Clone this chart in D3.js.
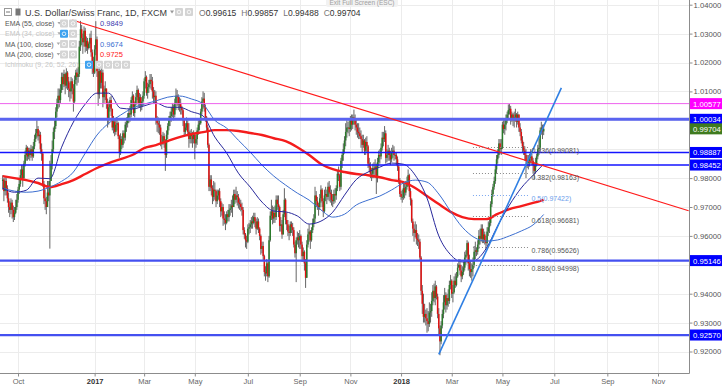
<!DOCTYPE html>
<html><head><meta charset="utf-8">
<script src="https://cdn.jsdelivr.net/npm/d3@7"></script>
<style>
html,body{margin:0;padding:0;background:#fff;}
svg{display:block;font-family:"Liberation Sans",Arial,sans-serif;}
</style></head><body>
<svg id="c" width="722" height="391"></svg>
<script>
// ---------------- DATA ----------------
const startDate = "2016-09-14";          // first daily bar (weekdays only)
const firstOpen = 0.9790;
const closes = [
.9795,.9755,.9790,
.9765,.9730,.9700,.9690,.9715, .9690,.9665,.9680,.9700,.9725, .9760,.9780,.9810,.9830,.9800,
.9850,.9880,.9905,.9875,.9895, .9880,.9900,.9875,.9910,.9935, .9955,.9970,.9945,.9950,.9900,
.9885,.9780,.9730,.9720,.9700, .9750,.9740,.9790,.9850,.9900, .9960,.9980,1.0030,1.0060,1.0085,
1.0070,1.0105,1.0150,1.0125,1.0160, 1.0120,1.0165,1.0135,1.0110,1.0100, 1.0135,1.0110,1.0065,1.0140,1.0165,
1.0150,1.0160,1.0255,1.0315,1.0285, 1.0270,1.0310,1.0255,1.0275,1.0250, 1.0265,1.0285,1.0235,1.0205,1.0165,
1.0245,1.0280,1.0170,1.0090,1.0170, 1.0130,1.0165,1.0080,1.0100,1.0110, 1.0060,1.0005,1.0045,1.0070,1.0040,
.9975,.9995,.9960,.9985,.9990, .9945,.9890,.9935,.9915,.9955, .9940,.9985,.9990,1.0010,1.0025,
1.0020,1.0070,1.0085,1.0025,1.0055, 1.0080,1.0105,1.0060,1.0080,1.0050, 1.0065,1.0085,1.0135,1.0150,1.0095,
1.0115,1.0125,1.0140,1.0135,1.0100, 1.0080,1.0085,1.0000,.9990,.9985, .9975,.9920,.9925,.9945,.9930,
.9880,.9950,.9980,1.0000,1.0015, 1.0030,1.0045,1.0020,1.0060,1.0085, 1.0080,1.0055,1.0060,1.0045,1.0035,
1.0000,.9960,.9975,.9990,.9960, .9935,.9955,.9945,.9935,.9950, .9920,.9935,.9965,.9985,.9990,
1.0030,1.0065,1.0075,1.0045,1.0010, .9975,.9915,.9770,.9795,.9765, .9735,.9760,.9755,.9720,.9740,
.9755,.9720,.9685,.9700,.9660, .9655,.9645,.9675,.9665,.9690, .9695,.9705,.9700,.9745,.9725,
.9740,.9735,.9715,.9710,.9700, .9690,.9620,.9605,.9585,.9580, .9625,.9630,.9640,.9650,.9645,
.9665,.9650,.9625,.9650,.9625, .9600,.9555,.9565,.9530,.9475, .9470,.9505,.9460,.9585,.9670,
.9685,.9660,.9680,.9665,.9725, .9710,.9700,.9635,.9640,.9605, .9675,.9725,.9655,.9640,.9615,
.9610,.9640,.9630,.9620,.9570, .9540,.9585,.9595,.9585,.9600, .9570,.9530,.9545,.9505,.9455,
.9570,.9605,.9615,.9585,.9620, .9645,.9660,.9740,.9720,.9705, .9700,.9730,.9760,.9720,.9685,
.9740,.9745,.9735,.9770,.9750, .9745,.9725,.9720,.9745,.9740, .9765,.9815,.9810,.9770,.9860,
.9880,.9900,.9930,.9960,.9975, .9975,.9970,1.0005,.9985,1.0010, 1.0000,.9985,.9975,.9960,.9955,
.9945,.9935,.9915,.9930,.9895, .9925,.9910,.9850,.9840,.9815, .9815,.9835,.9830,.9840,.9800,
.9855,.9880,.9875,.9905,.9940, .9935,.9955,.9870,.9880,.9895, .9880,.9865,.9890,.9895,.9880,
.9880,.9865,.9840,.9790,.9745, .9735,.9735,.9765,.9750,.9770, .9785,.9810,.9755,.9725,.9650,
.9625,.9610,.9620,.9590,.9585, .9580,.9525,.9410,.9365,.9320, .9330,.9315,.9305,.9295,.9335,
.9340,.9375,.9410,.9385,.9425, .9390,.9330,.9280,.9235,.9290, .9330,.9370,.9395,.9360,.9385,
.9375,.9430,.9445,.9400,.9405, .9445,.9430,.9460,.9490,.9500, .9480,.9460,.9475,.9490,.9525,
.9535,.9575,.9505,.9485,.9475, .9485,.9500,.9545,.9550,.9545, .9570,.9600,.9590,.9625,.9590,
.9605,.9585,.9575,.9615,.9630, .9645,.9710,.9745,.9770,.9790, .9830,.9865,.9880,.9920,.9900,
.9905,.9985,.9970,.9985,1.0000, 1.0020,1.0035,1.0040,1.0005,1.0020, 1.0000,1.0010,1.0020,.9995,1.0020,
.9975,.9960,.9930,.9910,.9895, .9880,.9860,.9855,.9855,.9870, .9875,.9860,.9845,.9825,.9845,
.9875,.9900,.9905,.9965,.9975, .99615,.99704
];
const highs = [
.9810,.9800,.9805,
.9800,.9775,.9750,.9720,.9730, .9725,.9705,.9700,.9725,.9745, .9770,.9800,.9830,.9845,.9845,
.9860,.9895,.9915,.9910,.9905, .9905,.9915,.9910,.9925,.9950, .9970,1.0000,.9980,.9965,.9960,
.9920,.9890,.9790,.9760,.9735, .9790,.9790,.9860,.9880,.9930, .9975,1.0000,1.0045,1.0075,1.0110,
1.0110,1.0125,1.0165,1.0165,1.0175, 1.0165,1.0180,1.0170,1.0150,1.0130, 1.0150,1.0145,1.0125,1.0155,1.0175,
1.0180,1.0185,1.0275,1.0344,1.0330, 1.0300,1.0325,1.0320,1.0290,1.0285, 1.0270,1.0300,1.0310,1.0245,1.0220,
1.0260,1.0343,1.0290,1.0180,1.0185, 1.0175,1.0185,1.0175,1.0120,1.0135, 1.0110,1.0075,1.0065,1.0080,1.0085,
1.0040,1.0015,1.0005,1.0005,1.0010, .9995,.9950,.9955,.9945,.9965, .9965,.9995,1.0010,1.0025,1.0040,
1.0050,1.0080,1.0100,1.0090,1.0065, 1.0095,1.0120,1.0110,1.0095,1.0090, 1.0080,1.0100,1.0145,1.0170,1.0155,
1.0130,1.0140,1.0160,1.0160,1.0150, 1.0115,1.0105,1.0100,1.0015,1.0010, 1.0000,.9985,.9950,.9960,.9955,
.9935,.9965,.9990,1.0015,1.0030, 1.0045,1.0060,1.0055,1.0075,1.0110, 1.0105,1.0090,1.0080,1.0075,1.0050,
1.0040,1.0005,.9990,1.0010,1.0000, .9990,.9965,.9970,.9960,.9965, .9955,.9950,.9975,1.0000,1.0005,
1.0040,1.0080,1.0100,1.0095,1.0055, 1.0015,.9985,.9920,.9810,.9810, .9775,.9790,.9785,.9760,.9760,
.9760,.9765,.9730,.9715,.9710, .9685,.9675,.9685,.9690,.9710, .9710,.9725,.9740,.9760,.9760,
.9770,.9755,.9745,.9730,.9725, .9715,.9700,.9630,.9610,.9600, .9640,.9645,.9655,.9665,.9670,
.9680,.9680,.9660,.9665,.9660, .9630,.9605,.9580,.9580,.9535, .9495,.9520,.9510,.9600,.9685,
.9725,.9705,.9700,.9705,.9740, .9740,.9740,.9705,.9665,.9655, .9690,.9765,.9730,.9680,.9655,
.9635,.9650,.9650,.9645,.9630, .9580,.9595,.9615,.9610,.9620, .9605,.9580,.9560,.9550,.9520,
.9585,.9625,.9640,.9620,.9630, .9660,.9675,.9770,.9755,.9735, .9715,.9745,.9775,.9765,.9730,
.9760,.9770,.9760,.9785,.9790, .9775,.9760,.9745,.9760,.9765, .9775,.9825,.9840,.9815,.9870,
.9890,.9920,.9945,.9990,1.0000, .9995,1.0000,1.0015,1.0020,1.0020, 1.0037,1.0020,1.0005,.9990,.9990,
.9975,.9965,.9950,.9950,.9935, .9940,.9945,.9915,.9870,.9855, .9835,.9850,.9855,.9865,.9850,
.9870,.9895,.9900,.9920,.9960, .9960,.9980,.9965,.9900,.9915, .9905,.9895,.9905,.9915,.9910,
.9890,.9890,.9875,.9845,.9800, .9755,.9760,.9790,.9780,.9790, .9805,.9830,.9815,.9765,.9730,
.9660,.9640,.9650,.9640,.9610, .9605,.9590,.9530,.9430,.9400, .9365,.9345,.9350,.9340,.9370,
.9365,.9405,.9430,.9435,.9445, .9430,.9400,.9350,.9290,.9305, .9345,.9395,.9420,.9405,.9400,
.9415,.9445,.9465,.9450,.9430, .9460,.9470,.9475,.9505,.9520, .9520,.9500,.9495,.9510,.9545,
.9550,.9585,.9580,.9535,.9510, .9505,.9525,.9565,.9580,.9560, .9585,.9620,.9625,.9640,.9640,
.9625,.9615,.9600,.9630,.9650, .9660,.9720,.9760,.9780,.9805, .9845,.9880,.9900,.9935,.9935,
.9935,.9995,1.0000,1.0005,1.0020, 1.0030,1.0055,1.0056,1.0050,1.0030, 1.0025,1.0030,1.0040,1.0025,1.0030,
1.0010,.9990,.9970,.9945,.9925, .9910,.9900,.9880,.9880,.9885, .9900,.9885,.9870,.9855,.9870,
.9885,.9915,.9935,.9975,.9995, .9985,.99857
];
const lows = [
.9760,.9720,.9740,
.9740,.9715,.9680,.9665,.9675, .9660,.9648,.9655,.9675,.9690, .9715,.9745,.9770,.9795,.9770,
.9795,.9840,.9860,.9860,.9865, .9860,.9870,.9860,.9870,.9900, .9925,.9940,.9930,.9920,.9885,
.9860,.9770,.9710,.9690,.9675, .9700,.9720,.9556,.9790,.9830, .9890,.9935,.9970,1.0010,1.0040,
1.0045,1.0060,1.0095,1.0105,1.0115, 1.0090,1.0110,1.0105,1.0080,1.0065, 1.0075,1.0090,1.0030,1.0060,1.0125,
1.0120,1.0130,1.0150,1.0240,1.0260, 1.0230,1.0255,1.0235,1.0240,1.0230, 1.0245,1.0250,1.0220,1.0160,1.0150,
1.0160,1.0225,1.0150,1.0050,1.0075, 1.0110,1.0110,1.0045,1.0060,1.0070, 1.0040,.9975,.9985,1.0030,1.0015,
.9965,.9955,.9945,.9950,.9965, .9935,.9870,.9880,.9900,.9905, .9920,.9930,.9960,.9975,.9990,
.9995,1.0010,1.0040,1.0015,1.0010, 1.0050,1.0070,1.0045,1.0045,1.0030, 1.0035,1.0050,1.0075,1.0110,1.0085,
1.0075,1.0095,1.0110,1.0105,1.0075, 1.0060,1.0060,.9985,.9960,.9955, .9950,.9910,.9900,.9915,.9905,
.9825,.9870,.9935,.9965,.9980, .9995,1.0010,1.0000,1.0010,1.0035, 1.0050,1.0035,1.0030,1.0020,1.0020,
.9980,.9945,.9950,.9965,.9945, .9905,.9920,.9920,.9905,.9920, .9865,.9905,.9915,.9950,.9965,
.9985,1.0020,1.0040,1.0030,.9995, .9960,.9905,.9755,.9755,.9740, .9710,.9720,.9725,.9700,.9710,
.9725,.9700,.9665,.9670,.9635, .9640,.9620,.9640,.9650,.9650, .9670,.9680,.9665,.9700,.9710,
.9715,.9705,.9695,.9690,.9685, .9670,.9605,.9590,.9560,.9555, .9575,.9605,.9610,.9625,.9625,
.9640,.9630,.9605,.9620,.9610, .9585,.9535,.9540,.9515,.9460, .9445,.9460,.9440,.9455,.9580,
.9655,.9640,.9645,.9645,.9655, .9690,.9665,.9615,.9615,.9590, .9610,.9665,.9640,.9620,.9600,
.9585,.9600,.9610,.9600,.9560, .9525,.9440,.9570,.9560,.9555, .9555,.9510,.9510,.9480,.9420,
.9470,.9560,.9580,.9555,.9580, .9610,.9630,.9645,.9700,.9690, .9670,.9690,.9715,.9700,.9665,
.9680,.9720,.9710,.9725,.9720, .9715,.9705,.9700,.9710,.9715, .9725,.9755,.9790,.9755,.9760,
.9835,.9860,.9885,.9910,.9940, .9955,.9945,.9960,.9965,.9970, .9985,.9965,.9950,.9940,.9935,
.9935,.9905,.9890,.9905,.9880, .9880,.9890,.9835,.9820,.9800, .9790,.9800,.9800,.9810,.9745,
.9785,.9840,.9850,.9865,.9895, .9910,.9925,.9850,.9855,.9860, .9860,.9845,.9855,.9870,.9860,
.9865,.9845,.9825,.9780,.9735, .9725,.9715,.9725,.9730,.9740, .9760,.9770,.9735,.9705,.9645,
.9600,.9580,.9595,.9570,.9565, .9555,.9515,.9395,.9330,.9300, .9300,.9290,.9265,.9270,.9285,
.9300,.9320,.9360,.9370,.9360, .9380,.9315,.9255,.9187,.9225, .9280,.9315,.9345,.9335,.9345,
.9355,.9365,.9415,.9385,.9370, .9400,.9420,.9425,.9455,.9490, .9465,.9440,.9450,.9465,.9480,
.9500,.9530,.9480,.9460,.9455, .9445,.9460,.9490,.9520,.9530, .9535,.9555,.9570,.9580,.9575,
.9575,.9570,.9555,.9565,.9600, .9610,.9635,.9700,.9735,.9760, .9780,.9815,.9850,.9870,.9885,
.9880,.9900,.9955,.9950,.9965, .9990,1.0005,1.0020,.9985,.9995, .9980,.9975,.9995,.9975,.9985,
.9960,.9945,.9920,.9890,.9880, .9860,.9800,.9835,.9830,.9840, .9850,.9845,.9815,.9795,.9815,
.9840,.9865,.9880,.9890,.9950, .9935,.99488
];

// moving averages, one sample every maStep bars (+ last bar)
const maStep = 10;
const ema55 = [.9765,.9751,.9758,.9800,.9798,.9907,.9994,1.0056,1.0094,1.0094,1.0042,1.0039,1.0050,1.0060,1.0045,1.0045,1.0030,1.0015,.9942,.9887,.9817,.9769,.9717,.9686,.9683,.9669,.9641,.9651,.9682,.9741,.9795,.9821,.9838,.9852,.9848,.9810,.9731,.9600,.9535,.9510,.9514,.9555,.9635,.9707,.9766,.9810,.9849];
const ma100 = [.9765,.9755,.9751,.9755,.9769,.9789,.9821,.9886,.9949,.9990,1.0018,1.0042,1.0056,1.0067,1.0080,1.0084,1.0074,1.0056,1.0000,.9973,.9931,.9890,.9845,.9807,.9776,.9748,.9724,.9690,.9665,.9675,.9707,.9724,.9738,.9759,.9783,.9793,.9786,.9745,.9685,.9630,.9595,.9582,.9586,.9600,.9617,.9638,.9674];
const ma200 = [.9807,.9800,.9793,.9783,.9769,.9779,.9793,.9814,.9835,.9852,.9866,.9880,.9904,.9914,.9928,.9942,.9952,.9959,.9966,.9966,.9963,.9956,.9949,.9938,.9928,.9907,.9880,.9849,.9831,.9821,.9814,.9810,.9803,.9793,.9786,.9766,.9738,.9710,.9683,.9665,.9658,.9658,.9676,.9693,.9703,.9714,.9725];

const levels = [1.00577, 1.00034, 0.98887, 0.98452, 0.95146, 0.92570];
const lastPrice = 0.99704;
const fibRatios = ["0.236","0.382","0.5","0.618","0.786","0.886"];
const fibValues = [0.99081, 0.98163, 0.97422, 0.96681, 0.95626, 0.94998];
const fibSpan = ["2018-03-27", "2018-06-01"];
const downTrend = [["2016-12-06", 1.0347], ["2018-12-07", 0.9687]];
const upTrend = [["2018-02-14", 0.9190], ["2018-07-10", 1.0112]];
const priceTicks = [0.92,0.93,0.94,0.95,0.96,0.97,0.98,0.99,1.00,1.01,1.02,1.03,1.04];
const monthTicks = ["2016-10","2017-01","2017-03","2017-05","2017-07","2017-09","2017-11","2018-01","2018-03","2018-05","2018-07","2018-09","2018-11"];
const monthLabels = ["Oct","2017","Mar","May","Jul","Sep","Nov","2018","Mar","May","Jul","Sep","Nov"];
const ohlcNames = ["O","H","L","C"];
const ohlcValues = [0.99615, 0.99857, 0.99488, 0.99704];
const legendNames = ["EMA (55, close)","EMA (34, close)","MA (100, close)","MA (200, close)","Ichimoku (9, 26, 52, 26)"];
const legendValues = [0.9849, null, 0.9674, 0.9725, null];

// ---------------- STYLE ----------------
const levelStyle = [
  {stroke:"#ee62ee", w:1,   box:"#ff00ff"},
  {stroke:"#5a63f0", w:3,   box:"#0000ff"},
  {stroke:"#1414ff", w:1.5, box:"#0000ff"},
  {stroke:"#1414ff", w:1.5, box:"#0000ff"},
  {stroke:"#4450f0", w:2.2, box:"#0000ff"},
  {stroke:"#4450f0", w:2.2, box:"#0000ff"}
];
const legendColors = ["#555","#c4c4c4","#555","#555","#c8c8c8"];
const legendValueColors = ["#4040b0",null,"#3d6fd0","#ff2020",null];
const FONT = "Liberation Sans, Arial, sans-serif";

// ---------------- CHART ----------------
const plotR = 689, plotB = 373;
const svg = d3.select("#c");

const parse = d3.utcParse("%Y-%m-%d"), fmt = d3.utcFormat("%Y-%m-%d");
const calendar = [];
for (let d = parse(startDate); d <= parse("2018-12-31"); d = d3.utcDay.offset(d, 1)) {
  const wd = d.getUTCDay();
  if (wd !== 0 && wd !== 6) calendar.push(fmt(d));
}
const barOf = s => calendar.indexOf(s);
const monthBars = monthTicks.map(m => calendar.findIndex(s => s.startsWith(m)));

const x = d3.scaleLinear().domain([-2.291, 582.3]).range([0, plotR]);
const y = d3.scaleLinear().domain([0.92, 1.04]).range([351.5, 4.7]);

svg.append("rect").attr("width",722).attr("height",391).attr("fill","#fff");

// grid
const grid = svg.append("g");
grid.selectAll(".gv").data(monthBars).join("line")
  .attr("x1", d=>Math.round(x(d))+0.5).attr("x2", d=>Math.round(x(d))+0.5)
  .attr("y1",0).attr("y2",plotB).attr("stroke","#ececec");
grid.selectAll(".gh").data(priceTicks).join("line")
  .attr("x1",0).attr("x2",plotR)
  .attr("y1", d=>Math.round(y(d))+0.5).attr("y2", d=>Math.round(y(d))+0.5).attr("stroke","#ececec");

svg.append("clipPath").attr("id","clip").append("rect").attr("width",plotR).attr("height",plotB);
const plot = svg.append("g").attr("clip-path","url(#clip)");

// candles
const candles = closes.map((c,i)=>({i, o: i ? closes[i-1] : firstOpen, h: highs[i], l: lows[i], c}));
const gC = plot.append("g");
gC.selectAll("line").data(candles).join("line")
  .attr("x1", d=>x(d.i)).attr("x2", d=>x(d.i))
  .attr("y1", d=>y(Math.max(d.h,d.o,d.c))).attr("y2", d=>y(Math.min(d.l,d.o,d.c)))
  .attr("stroke","#545454").attr("stroke-width",0.9);
gC.selectAll("rect").data(candles).join("rect")
  .attr("x", d=>x(d.i)-0.75).attr("width",1.5)
  .attr("y", d=>y(Math.max(d.o,d.c)))
  .attr("height", d=>Math.max(0.8, Math.abs(y(d.o)-y(d.c))))
  .attr("fill", d=> d.c>=d.o ? "#2b7a2b" : "#e01010");

// moving averages
const maBars = d3.range(0, closes.length, maStep); maBars.push(closes.length-1);
const maLine = d3.line().x((d,i)=>x(maBars[i])).y(d=>y(d)).curve(d3.curveMonotoneX);
plot.append("path").attr("d", maLine(ma200)).attr("fill","none").attr("stroke","#f41c1c").attr("stroke-width",2.4);
plot.append("path").attr("d", maLine(ma100)).attr("fill","none").attr("stroke","#3d6fd0").attr("stroke-width",1);
plot.append("path").attr("d", maLine(ema55)).attr("fill","none").attr("stroke","#28289c").attr("stroke-width",1);

// horizontal levels
plot.selectAll(".lvl").data(levels).join("line")
  .attr("x1",0).attr("x2",plotR).attr("y1",d=>y(d)).attr("y2",d=>y(d))
  .attr("stroke",(d,i)=>levelStyle[i].stroke).attr("stroke-width",(d,i)=>levelStyle[i].w);

// trend lines
const tl = d3.line().x(d=>x(barOf(d[0]))).y(d=>y(d[1]));
plot.append("path").attr("d", tl(downTrend)).attr("stroke","#ff1a1a").attr("stroke-width",1.2).attr("fill","none");
plot.append("path").attr("d", tl(upTrend)).attr("stroke","#2f7fe3").attr("stroke-width",1.6).attr("fill","none");

// fibonacci
const fx1 = x(barOf(fibSpan[0])), fx2 = x(barOf(fibSpan[1]));
const fibG = svg.append("g");
fibG.selectAll("line").data(fibValues).join("line")
  .attr("x1",fx1).attr("x2",fx2).attr("y1",d=>Math.round(y(d))+0.5).attr("y2",d=>Math.round(y(d))+0.5)
  .attr("stroke",(d,i)=>fibRatios[i]==="0.5"?"#7aa6f0":"#8a8a8a").attr("stroke-dasharray","1,2");
fibG.selectAll("text").data(fibValues).join("text")
  .attr("x",fx2+2).attr("y",d=>y(d)+6.3)
  .attr("font-family",FONT).attr("font-size",7)
  .attr("fill",(d,i)=>fibRatios[i]==="0.5"?"#6d9eeb":"#555")
  .text((d,i)=>`${fibRatios[i]}(${d3.format(".5f")(d)})`);

// axes frame
svg.append("line").attr("x1",plotR+0.5).attr("x2",plotR+0.5).attr("y1",0).attr("y2",plotB+0.5).attr("stroke","#8c8c8c");
svg.append("line").attr("x1",0).attr("x2",plotR+0.5).attr("y1",plotB+0.5).attr("y2",plotB+0.5).attr("stroke","#8c8c8c");

// price boxes on the right axis (current price + horizontal levels)
const boxes = levels.map((v,i)=>({v, fill:levelStyle[i].box}));
boxes.splice(2,0,{v:lastPrice, fill:"#3f7b1f"});

// axis tick labels hidden where a price box covers them (as the platform does)
const visibleTicks = priceTicks.filter(t => boxes.every(b => Math.abs(y(t) - y(b.v)) > 9));
const gy = svg.append("g").attr("transform",`translate(${plotR+0.5},0)`)
  .call(d3.axisRight(y).tickValues(visibleTicks).tickFormat(d3.format(".5f")).tickSize(3).tickPadding(1).tickSizeOuter(0));
gy.select(".domain").remove();
gy.attr("font-family",FONT).attr("font-size",7.7);
gy.selectAll(".tick line").attr("stroke","#8c8c8c");
gy.selectAll(".tick text").attr("fill","#555");

const gx = svg.append("g").attr("transform",`translate(0,${plotB+0.5})`)
  .call(d3.axisBottom(x).tickValues(monthBars).tickFormat((d,i)=>monthLabels[i]).tickSize(3).tickPadding(2).tickSizeOuter(0));
gx.select(".domain").remove();
gx.attr("font-family",FONT).attr("font-size",7.5);
gx.selectAll(".tick line").attr("stroke","#8c8c8c");
gx.selectAll(".tick text").attr("fill",(d,i)=>monthLabels[i].length===4?"#333":"#666")
  .attr("font-weight",(d,i)=>monthLabels[i].length===4?"bold":"normal");

const gb = svg.append("g");
gb.selectAll("rect").data(boxes).join("rect")
  .attr("x",plotR+1).attr("width",722-plotR-1).attr("y",d=>y(d.v)-5.5).attr("height",11).attr("fill",d=>d.fill);
gb.selectAll("text").data(boxes).join("text")
  .attr("x",plotR+4).attr("y",d=>y(d.v)+3)
  .attr("font-family",FONT).attr("font-size",7.7).attr("fill","#fff")
  .text(d=>d3.format(".5f")(d.v));

// legend
const lg = svg.append("g").attr("font-family",FONT);
function icon(xp, yp, fill) {
  lg.append("rect").attr("x",xp).attr("y",yp).attr("width",8).attr("height",8).attr("rx",1).attr("fill",fill);
  lg.append("circle").attr("cx",xp+4).attr("cy",yp+4).attr("r",1.8).attr("fill","none").attr("stroke","#fff").attr("stroke-width",0.8);
}
lg.append("rect").attr("x",4.5).attr("y",8.5).attr("width",7).attr("height",7).attr("fill","#fff").attr("stroke","#999");
lg.append("line").attr("x1",6).attr("x2",10).attr("y1",12).attr("y2",12).attr("stroke","#777");
lg.append("rect").attr("x",15.5).attr("y",8.5).attr("width",5).attr("height",7).attr("fill","#777");
const title = lg.append("text").attr("x",25).attr("y",16).attr("font-size",9).attr("fill","#3a3a3a").text("U.S. Dollar/Swiss Franc, 1D, FXCM");
const tEnd = 25 + title.node().getComputedTextLength();
lg.append("path").attr("d",`M${tEnd+3},10.5 l4,0 l-2,3 z`).attr("fill","#999");
icon(175,8,"#d4d4d4"); icon(185,8,"#d4d4d4");
const ot = lg.append("text").attr("x",199).attr("y",16).attr("font-size",8.5);
ohlcNames.forEach((n,i)=>{
  ot.append("tspan").attr("fill","#777").attr("dx", i? 5 : 0).text(n);
  ot.append("tspan").attr("fill","#333").text(d3.format(".5f")(ohlcValues[i]));
});
legendNames.forEach((n,i)=>{
  const by = 26 + i*10.3;
  const t = lg.append("text").attr("x",5).attr("y",by).attr("font-size",7).attr("fill",legendColors[i]).text(n);
  if (i<4) {
    const e = 5 + t.node().getComputedTextLength();
    lg.append("path").attr("d",`M${e+3},${by-4} l3.5,0 l-1.75,2.5 z`).attr("fill","#aaa");
    icon(60, by-6.5, i===1 ? "#3ea2ef" : "#d4d4d4");
    icon(69, by-6.5, "#d4d4d4");
  } else {
    icon(85, by-6.5, "#3ea2ef"); icon(95, by-6.5, "#d4d4d4");
    icon(104, by-6.5, "#d4d4d4"); icon(113, by-6.5, "#d4d4d4"); icon(122, by-6.5, "#d4d4d4");
  }
  if (legendValues[i] !== null)
    lg.append("text").attr("x",100).attr("y",by).attr("font-size",7.5).attr("fill",legendValueColors[i])
      .text(d3.format(".4f")(legendValues[i]));
});

// "Exit Full Screen" hint
svg.append("rect").attr("x",326).attr("y",-3).attr("width",72).attr("height",10).attr("rx",2).attr("fill","#f2f2f2");
svg.append("text").attr("x",362).attr("y",5).attr("text-anchor","middle").attr("font-family",FONT)
  .attr("font-size",6.5).attr("fill","#a0a0a0").text("Exit Full Screen (ESC)");
</script>
</body></html>
